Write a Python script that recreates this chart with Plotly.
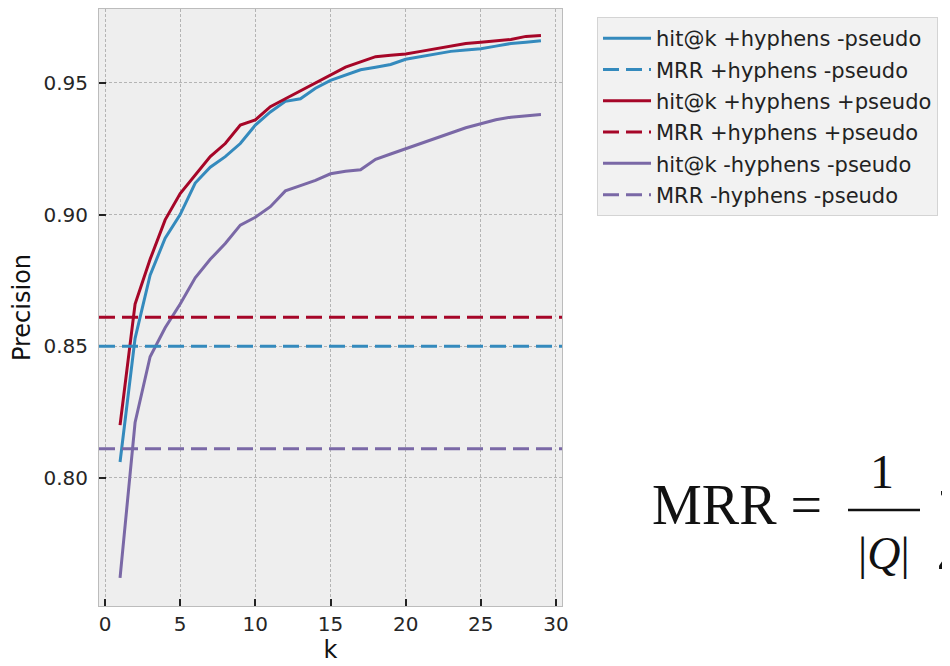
import plotly.graph_objects as go

# ---- data ----
k = list(range(1, 30))

hit_hyph_nopseudo = [0.806, 0.853, 0.877, 0.891, 0.900, 0.912, 0.918, 0.922, 0.927, 0.934,
                     0.939, 0.943, 0.944, 0.948, 0.951, 0.953, 0.955, 0.956, 0.957, 0.959,
                     0.960, 0.961, 0.962, 0.9625, 0.963, 0.964, 0.965, 0.9655, 0.966]
hit_hyph_pseudo = [0.820, 0.866, 0.883, 0.898, 0.908, 0.915, 0.922, 0.927, 0.934, 0.936,
                   0.941, 0.944, 0.947, 0.950, 0.953, 0.956, 0.958, 0.960, 0.9605, 0.961,
                   0.962, 0.963, 0.964, 0.965, 0.9655, 0.966, 0.9665, 0.9677, 0.968]
hit_nohyph_nopseudo = [0.762, 0.821, 0.846, 0.857, 0.866, 0.876, 0.883, 0.889, 0.896, 0.899,
                       0.903, 0.909, 0.911, 0.913, 0.9155, 0.9165, 0.917, 0.921, 0.923, 0.925,
                       0.927, 0.929, 0.931, 0.933, 0.9345, 0.936, 0.937, 0.9375, 0.938]

mrr_hyph_nopseudo = 0.850
mrr_hyph_pseudo = 0.861
mrr_nohyph_nopseudo = 0.811

series_names = ["hit@k +hyphens -pseudo", "MRR +hyphens -pseudo",
                "hit@k +hyphens +pseudo", "MRR +hyphens +pseudo",
                "hit@k -hyphens -pseudo", "MRR -hyphens -pseudo"]

x_ticks = [0, 5, 10, 15, 20, 25, 30]
y_ticks = [0.80, 0.85, 0.90, 0.95]

BLUE, RED, PURPLE = "#348ABD", "#A60628", "#7A68A6"
FONT = "DejaVu Sans"

# ---- layout geometry ----
# the page body adds an 8px offset, so the figure is sized to fill the rest of the window
OFF = 8
W, H = 950 - OFF, 666 - OFF
L, R, T, B = 99 - OFF, 562 - OFF, 9 - OFF, 606 - OFF   # plot-area edges in figure pixels
pw, ph = R - L, B - T

def px(X):  # reference pixel x -> paper
    return (X - OFF - L) / pw

def py(Y):  # reference pixel y -> paper
    return (B - (Y - OFF)) / ph

fig = go.Figure()

curves = [(hit_hyph_nopseudo, BLUE, series_names[0], mrr_hyph_nopseudo, series_names[1]),
          (hit_hyph_pseudo, RED, series_names[2], mrr_hyph_pseudo, series_names[3]),
          (hit_nohyph_nopseudo, PURPLE, series_names[4], mrr_nohyph_nopseudo, series_names[5])]

rank = 1
for vals, col, nm, mrr, mnm in curves:
    fig.add_trace(go.Scatter(x=k, y=vals, mode="lines", name=nm,
                             line=dict(color=col, width=3),
                             legendgroup=nm, legendrank=rank))
    rank += 1
    fig.add_shape(type="line", xref="x domain", yref="y", x0=0, x1=1, y0=mrr, y1=mrr,
                  line=dict(color=col, width=3, dash="16px,7px"),
                  showlegend=True, name=mnm, legendgroup=mnm, legendrank=rank,
                  layer="above")
    rank += 1

axis_common = dict(
    showgrid=True, gridcolor="#b4b4b4", gridwidth=1, griddash="3px,2px",
    zeroline=False, showline=True, linecolor="#bcbcbc", linewidth=1, mirror=True,
    ticks="inside", ticklen=7, tickwidth=1.5, tickcolor="#222222",
    tickfont=dict(family=FONT, size=20, color="#262626"),
)

fig.update_xaxes(range=[-0.4, 30.4], tickvals=x_ticks, ticktext=[str(v) for v in x_ticks],
                 ticklabelstandoff=0,
                 title=dict(text="k", font=dict(family=FONT, size=24, color="#111111"), standoff=6),
                 **axis_common)
fig.update_yaxes(range=[0.7513, 0.9781], tickvals=y_ticks, ticktext=[f"{v:.2f}" for v in y_ticks],
                 ticklabelstandoff=6,
                 title=dict(text="Precision", font=dict(family=FONT, size=24, color="#111111"), standoff=10),
                 **axis_common)

# ---- the MRR formula (cut off at the right edge, as in the reference) ----
SERIF = "Liberation Serif"
INK = "#111111"
fig.add_annotation(xref="paper", yref="paper", x=px(650), y=py(505), xanchor="left", yanchor="middle",
                   text="MRR =", showarrow=False, font=dict(family=SERIF, size=56, color=INK))
fig.add_annotation(xref="paper", yref="paper", x=px(882), y=py(471), xanchor="center", yanchor="middle",
                   text="1", showarrow=False, font=dict(family=SERIF, size=48, color=INK))
fig.add_shape(type="line", xref="paper", yref="paper", x0=px(848), x1=px(920), y0=py(510), y1=py(510),
              line=dict(color=INK, width=2.5))
fig.add_annotation(xref="paper", yref="paper", x=px(884), y=py(553), xanchor="center", yanchor="middle",
                   text="|<i>Q</i>|", showarrow=False, font=dict(family=SERIF, size=46, color=INK))
fig.add_annotation(xref="paper", yref="paper", x=px(933), y=py(520), xanchor="left", yanchor="middle",
                   text="∑", showarrow=False, font=dict(family=SERIF, size=90, color=INK))

fig.update_layout(
    width=W, height=H,
    margin=dict(l=L, r=W - R, t=T, b=H - B, autoexpand=False),
    paper_bgcolor="white", plot_bgcolor="#eeeeee",
    font=dict(family=FONT, color="#222222"),
    showlegend=True,
    legend=dict(x=px(597), y=py(17), xanchor="left", yanchor="top",
                bgcolor="#f2f2f2", bordercolor="#d4d4d4", borderwidth=1,
                font=dict(family=FONT, size=21, color="#222222"),
                traceorder="grouped", tracegroupgap=1, itemwidth=48),
)

fig.write_html("out.html")
